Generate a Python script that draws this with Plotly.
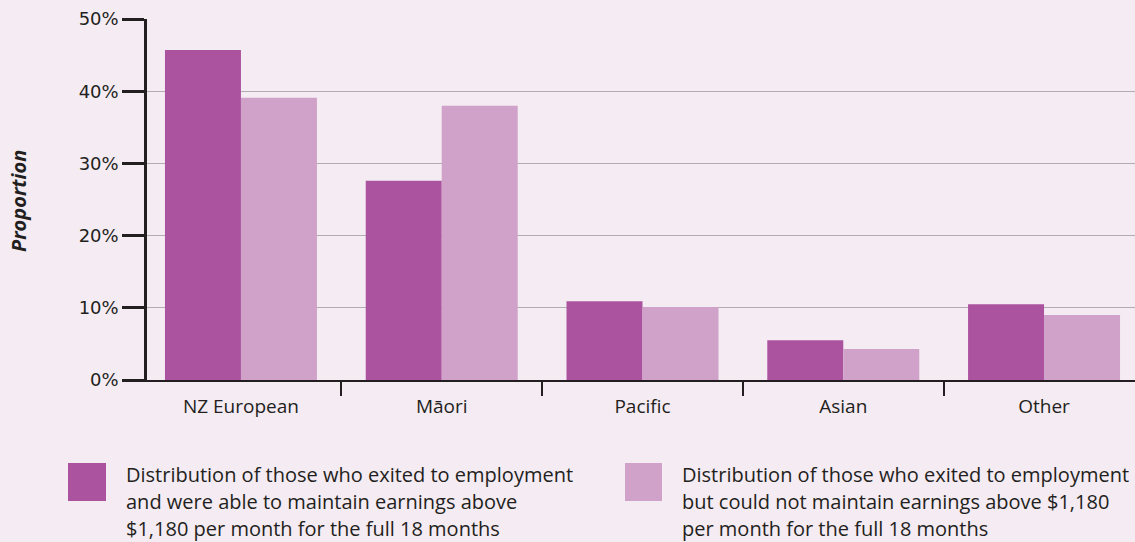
import plotly.graph_objects as go

categories = ["NZ European", "Māori", "Pacific", "Asian", "Other"]
series_names = [
    "Distribution of those who exited to employment and were able to maintain earnings above $1,180 per month for the full 18 months",
    "Distribution of those who exited to employment but could not maintain earnings above $1,180 per month for the full 18 months",
]
maintained = [45.7, 27.6, 10.9, 5.5, 10.5]
not_maintained = [39.1, 38.0, 10.1, 4.3, 9.0]
legend_lines = [
    ["Distribution of those who exited to employment",
     "and were able to maintain earnings above",
     "$1,180 per month for the full 18 months"],
    ["Distribution of those who exited to employment",
     "but could not maintain earnings above $1,180",
     "per month for the full 18 months"],
]
y_ticks = [0, 10, 20, 30, 40, 50]
y_tick_labels = ["0%", "10%", "20%", "30%", "40%", "50%"]

DARK = "#ab539f"
LIGHT = "#d0a2c9"
BG = "#f5ebf3"
INK = "#231f20"
FONT = "Open Sans"

fig = go.Figure()
fig.add_trace(go.Bar(x=categories, y=maintained, name=series_names[0],
                     marker=dict(color=DARK, line=dict(width=0))))
fig.add_trace(go.Bar(x=categories, y=not_maintained, name=series_names[1],
                     marker=dict(color=LIGHT, line=dict(width=0))))

# plot area in px: left 147, right 1135, top 19, bottom 380
W, H = 1135, 542
L, R, T, B = 147, 1135, 19, 380
def px(x):
    return (x - L) / (R - L)
def py(y):
    return (B - y) / (B - T)

annotations = [dict(text="<b><i>Proportion</i></b>", x=px(18), y=py(201), xref="paper", yref="paper",
                    xanchor="center", yanchor="middle", textangle=-90, showarrow=False,
                    font=dict(family=FONT, size=20, color=INK))]
shapes = []
legend_x = [(68, 106, 124), (625, 662, 680)]
colors = [DARK, LIGHT]
line_y = [474, 501, 528]
for i, (sx0, sx1, tx) in enumerate(legend_x):
    shapes.append(dict(type="rect", xref="paper", yref="paper", x0=px(sx0), x1=px(sx1),
                       y0=py(501), y1=py(463), fillcolor=colors[i], line=dict(width=0)))
    for j, ln in enumerate(legend_lines[i]):
        annotations.append(dict(text=ln, x=px(tx), y=py(line_y[j]), xref="paper", yref="paper",
                                xanchor="left", yanchor="middle", showarrow=False,
                                font=dict(family=FONT, size=20, color=INK)))

fig.update_layout(
    width=W, height=H,
    margin=dict(l=L, r=W - R, t=T, b=H - B),
    paper_bgcolor=BG, plot_bgcolor=BG,
    barmode="group", bargap=0.243, bargroupgap=0,
    showlegend=False,
    font=dict(family=FONT, color=INK),
    annotations=annotations, shapes=shapes,
)
fig.update_xaxes(
    type="category", range=[-0.468, 4.453],
    tickson="boundaries", ticks="outside", ticklen=14, tickwidth=2,
    tickcolor=INK, showline=True, linecolor=INK, linewidth=2, showgrid=False,
    tickfont=dict(family=FONT, size=19, color=INK), zeroline=False,
    ticklabelstandoff=8,
)
fig.update_yaxes(
    range=[0, 50], tickmode="array", tickvals=y_ticks, ticktext=y_tick_labels,
    ticks="outside", ticklen=22, tickwidth=2.5, tickcolor=INK, showline=True, linecolor=INK,
    linewidth=2.5, showgrid=True, gridcolor="#b0adb0", gridwidth=1.2, zeroline=False,
    tickfont=dict(family="DejaVu Sans", size=18, color=INK),
)
fig.write_html("out.html", config={"displayModeBar": False},
               post_script="document.body.style.margin='0';")
